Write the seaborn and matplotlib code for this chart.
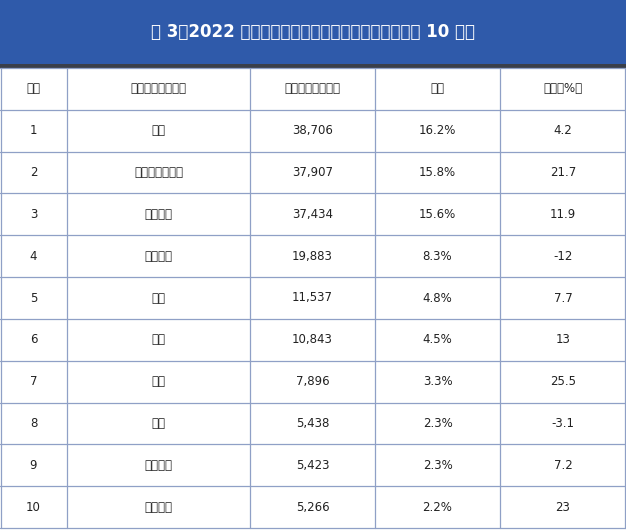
import matplotlib.pyplot as plt
import seaborn as sns

sns.set_theme(style="white")
plt.rcParams["font.family"] = "sans-serif"
plt.rcParams["font.sans-serif"] = ["Noto Sans CJK SC", "Noto Sans CJK JP", "DejaVu Sans"]
FONT = "Noto Sans CJK SC"

title = "表 3：2022 年中国对目的国（地）出口金额排名（前 10 名）"
headers = ["排名", "出口目的国（地）", "出口金额（亿元）", "占比", "同比（%）"]
ranks = ["1", "2", "3", "4", "5", "6", "7", "8", "9", "10"]
countries = ["美国", "东南亚国家联盟", "欧洲联盟", "中国香港", "日本", "韩国", "印度", "英国", "中国台湾", "澳大利亚"]
amounts = ["38,706", "37,907", "37,434", "19,883", "11,537", "10,843", "7,896", "5,438", "5,423", "5,266"]
shares = ["16.2%", "15.8%", "15.6%", "8.3%", "4.8%", "4.5%", "3.3%", "2.3%", "2.3%", "2.2%"]
yoy = ["4.2", "21.7", "11.9", "-12", "7.7", "13", "25.5", "-3.1", "7.2", "23"]

W, H = 626, 530
col_edges = [0, 67, 250, 375, 500, 626]
title_h, band_h = 64, 4
header_top = title_h + band_h
row_h = (H - 2 - header_top) / 11

fig = plt.figure(figsize=(W / 100, H / 100), dpi=100)
ax = fig.add_axes([0, 0, 1, 1])
ax.set_xlim(0, W)
ax.set_ylim(H, 0)
ax.axis("off")

ax.add_patch(plt.Rectangle((0, 0), W, title_h, color="#2F5AAA", lw=0))
ax.add_patch(plt.Rectangle((0, title_h), W, band_h, color="#3A3F4A", lw=0))
ax.text(W / 2, title_h / 2, title, ha="center", va="center", color="white",
        fontsize=12, fontweight="bold", fontfamily=FONT)

rows = [headers] + [list(r) for r in zip(ranks, countries, amounts, shares, yoy)]
line_c = "#8FA0C6"
for i, row in enumerate(rows):
    yc = header_top + (i + 0.5) * row_h
    for j, val in enumerate(row):
        xc = (col_edges[j] + col_edges[j + 1]) / 2
        ax.text(xc, yc, val, ha="center", va="center", fontsize=8.5,
                color="#222222", fontfamily=FONT)
for i in range(12):
    y = header_top + i * row_h
    ax.plot([0, W], [y, y], color=line_c, lw=0.9)
for x in col_edges[1:-1]:
    ax.plot([x, x], [header_top, header_top + 11 * row_h], color=line_c, lw=0.9)
ax.plot([0.5, 0.5], [header_top, header_top + 11 * row_h], color=line_c, lw=0.9)
ax.plot([W - 1, W - 1], [header_top, header_top + 11 * row_h], color=line_c, lw=0.9)

fig.savefig("out.png", dpi=100)
